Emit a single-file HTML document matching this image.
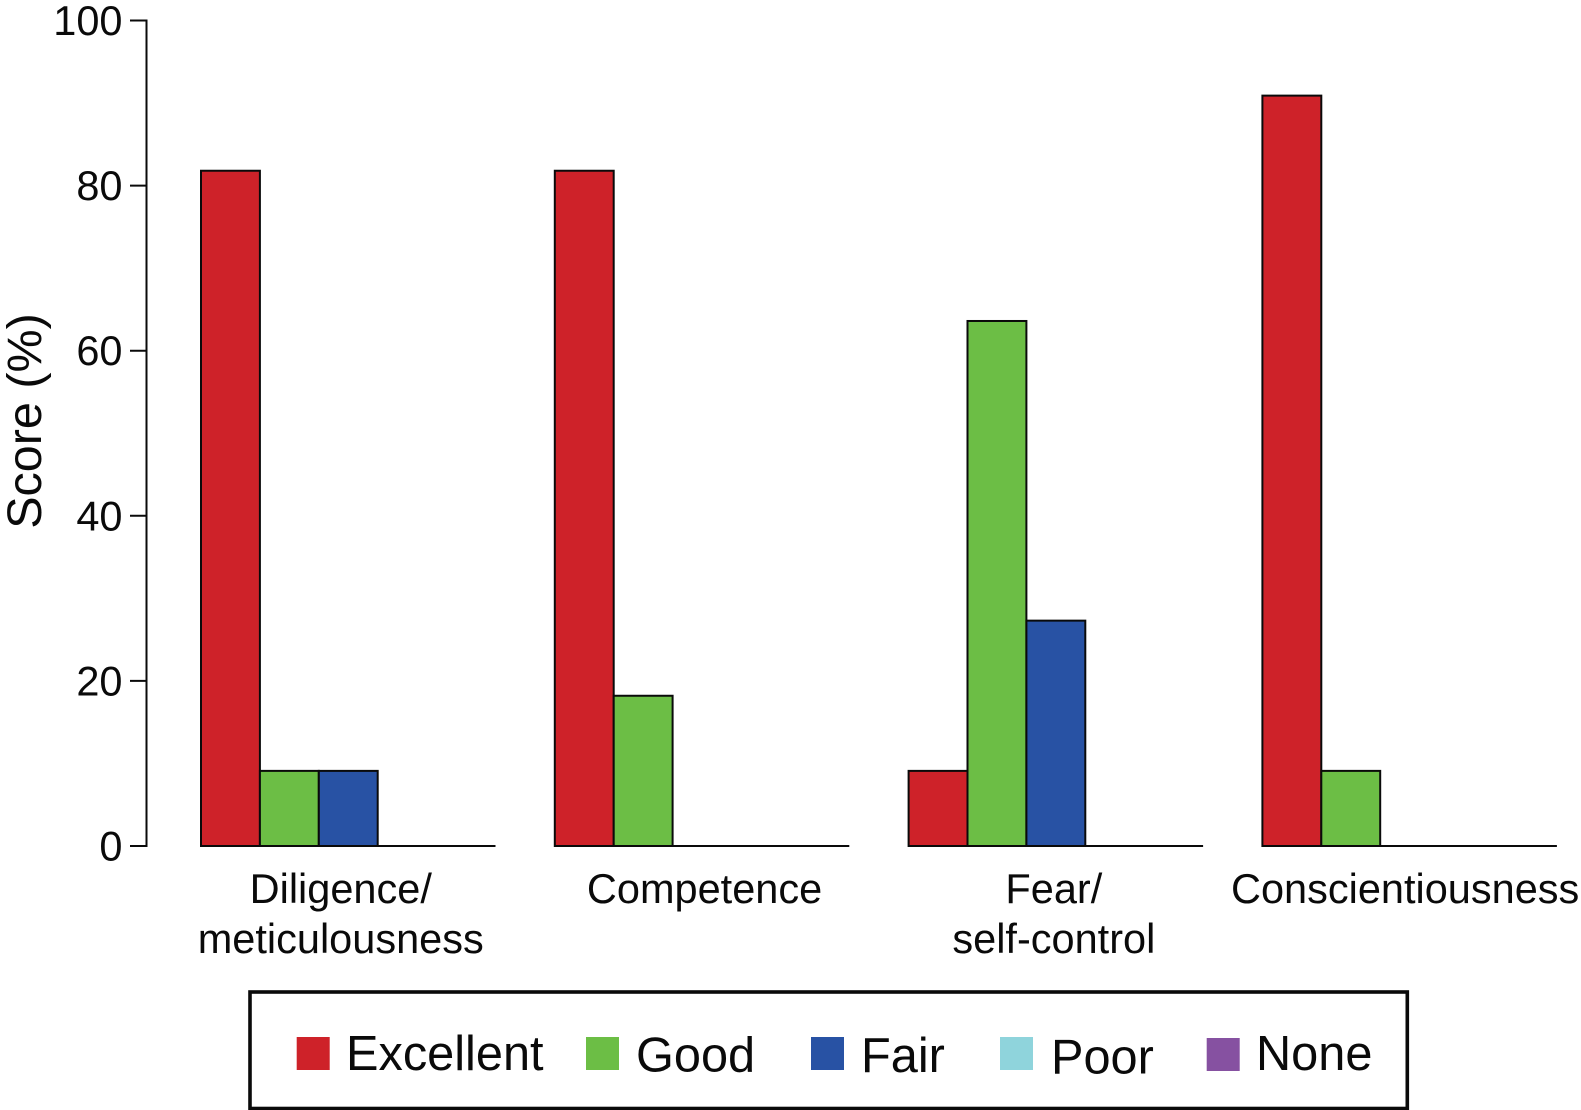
<!DOCTYPE html>
<html lang="en">
<head>
<meta charset="utf-8">
<title>Score by trait</title>
<style>
  html, body { margin: 0; padding: 0; background: #fff; }
  body { width: 1581px; height: 1110px; overflow: hidden; }
  svg { display: block; }
  text { font-family: "Liberation Sans", Arial, sans-serif; fill: #0a0a0a; }
</style>
</head>
<body>
<svg id="chart" xmlns="http://www.w3.org/2000/svg" width="1581" height="1110" viewBox="0 0 1581 1110">
  <g id="y-axis"></g>
  <g id="bars"></g>
  <g id="x-labels"></g>
  <text transform="translate(41 421) rotate(-90)" text-anchor="middle" font-size="48.5">Score (%)</text>

  <g>
    <rect x="250" y="992" width="1157.3" height="116.5" fill="#fff" stroke="#0a0a0a" stroke-width="3.6"/>
    <g>
      <rect x="296.7" y="1037" width="33" height="33" fill="#ce2229"/>
      <text x="346" y="1070" font-size="48.7">Excellent</text>
    </g>
    <g>
      <rect x="586" y="1037" width="33" height="33" fill="#6cbe45"/>
      <text x="636" y="1071.5" font-size="48.7">Good</text>
    </g>
    <g>
      <rect x="811" y="1037" width="33" height="33" fill="#2852a4"/>
      <text x="861" y="1072" font-size="48.7">Fair</text>
    </g>
    <g>
      <rect x="1000" y="1037" width="33" height="33" fill="#8fd4dc"/>
      <text x="1051" y="1073.5" font-size="48.7">Poor</text>
    </g>
    <g>
      <rect x="1206.7" y="1038" width="33" height="33" fill="#8651a1"/>
      <text x="1256" y="1070" font-size="48.7">None</text>
    </g>
  </g>
</svg>
<script>
const categories = [
  ["Diligence/", "meticulousness"],
  ["Competence"],
  ["Fear/", "self-control"],
  ["Conscientiousness"]
];
const seriesNames = ["excellent", "good", "fair", "poor", "none"];
const excellent = [81.8, 81.8, 9.1, 90.9];
const good = [9.1, 18.2, 63.6, 9.1];
const fair = [9.1, 0, 27.3, 0];
const poor = [0, 0, 0, 0];
const none = [0, 0, 0, 0];
const yTicks = [0, 20, 40, 60, 80, 100];

const seriesValues = [excellent, good, fair, poor, none];
const seriesColors = ["#ce2229", "#6cbe45", "#2852a4", "#8fd4dc", "#8651a1"];

const NS = "http://www.w3.org/2000/svg";
const y0 = 846, yPerUnit = 8.255;
const firstGroupX = 201, groupStep = 353.8, barWidth = 58.9;
const labelNudge = [-7.5, 2.5, -2, -4.5];

function yScale(v) { return y0 - v * yPerUnit; }
function groupX(g) { return firstGroupX + g * groupStep; }
function barX(g, s) { return groupX(g) + s * barWidth; }
function make(tag, attrs, parent) {
  const el = document.createElementNS(NS, tag);
  for (const k in attrs) el.setAttribute(k, attrs[k]);
  parent.appendChild(el);
  return el;
}

const yAxis = document.getElementById("y-axis");
const axisLine = make("line", { x1: 146.5, x2: 146.5, y1: yScale(100), y2: yScale(0), stroke: "#0a0a0a", "stroke-width": 2 }, yAxis);


yTicks.forEach(function (t) {
  const tick = make("line", { x1: 130, x2: 147.5, y1: yScale(t), y2: yScale(t), stroke: "#0a0a0a", "stroke-width": 2 }, yAxis);
  
  
  const label = make("text", { x: 122.5, y: yScale(t) + 14.5, "text-anchor": "end", "font-size": 41.5 }, yAxis);
  label.textContent = String(t);
  
  
});

const barsLayer = document.getElementById("bars");
categories.forEach(function (cat, g) {
  const baseline = make("line", { x1: groupX(g), x2: barX(g, seriesValues.length), y1: y0, y2: y0, stroke: "#0a0a0a", "stroke-width": 2 }, barsLayer);
  
  
  seriesValues.forEach(function (values, s) {
    const v = values[g];
    const bar = make("rect", {
      x: barX(g, s), y: yScale(v), width: barWidth, height: y0 - yScale(v),
      fill: seriesColors[s], stroke: "#0a0a0a", "stroke-width": 2
    }, barsLayer);
    
    
  });
});

const labelLayer = document.getElementById("x-labels");
categories.forEach(function (lines, g) {
  const cx = groupX(g) + barWidth * seriesValues.length / 2 + labelNudge[g];
  lines.forEach(function (line, i) {
    const t = make("text", { x: cx, y: 903 + i * 50, "text-anchor": "middle", "font-size": 41.5 }, labelLayer);
    t.textContent = line;
    
    
  });
});
</script>
</body>
</html>
